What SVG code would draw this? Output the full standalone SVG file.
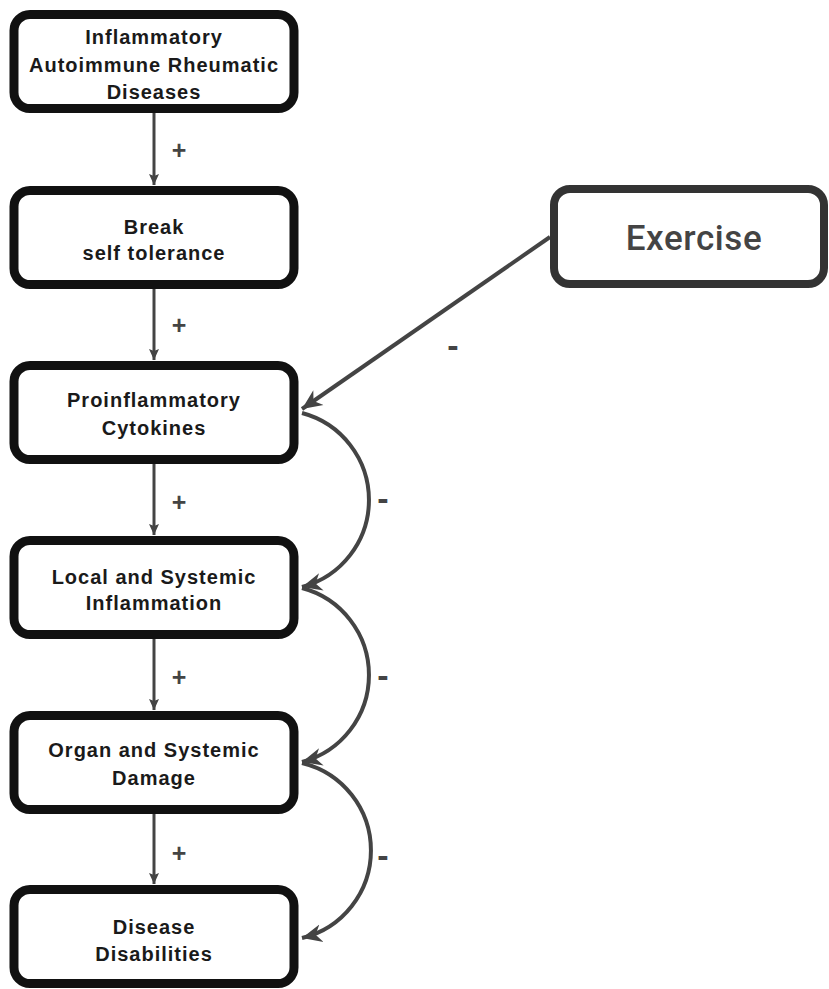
<svg xmlns="http://www.w3.org/2000/svg" width="829" height="989" viewBox="0 0 829 989">
<style>
.box{fill:#fff;stroke:#111;stroke-width:9}
.ex{fill:#fff;stroke:#333;stroke-width:8}
.t{font-family:"Liberation Sans",Arial,sans-serif;font-weight:bold;font-size:20px;letter-spacing:1px;fill:#1a1a1a;text-anchor:middle}
.ext{font-family:Roboto,"Liberation Sans",sans-serif;font-weight:500;font-size:35px;letter-spacing:0.6px;fill:#444;text-anchor:middle}
.v{stroke:#444;stroke-width:3;fill:none}
.c{stroke:#444;stroke-width:4;fill:none}
.lbl{font-family:"Liberation Sans",Arial,sans-serif;font-weight:bold;font-size:25px;fill:#444;text-anchor:middle}
.mn{font-family:"Liberation Sans",Arial,sans-serif;font-weight:bold;font-size:34px;fill:#444;text-anchor:middle}
</style>
<defs>
<marker id="sm" markerUnits="userSpaceOnUse" markerWidth="12" markerHeight="12" refX="11" refY="6" orient="auto">
<path d="M0,1 L11,6 L0,11 L2,6 z" fill="#444"/>
</marker>
<marker id="lg" markerUnits="userSpaceOnUse" markerWidth="22" markerHeight="20" refX="20" refY="10" orient="auto">
<path d="M0,1 L20,10 L0,19 L6,10 z" fill="#444"/>
</marker>
</defs>
<g id="connectors">
<line class="v" x1="154" y1="113" x2="154" y2="185" marker-end="url(#sm)"/>
<line class="v" x1="154" y1="289" x2="154" y2="360" marker-end="url(#sm)"/>
<line class="v" x1="154" y1="464" x2="154" y2="535" marker-end="url(#sm)"/>
<line class="v" x1="154" y1="639" x2="154" y2="710" marker-end="url(#sm)"/>
<line class="v" x1="154" y1="814" x2="154" y2="884" marker-end="url(#sm)"/>
<line class="c" x1="550" y1="237" x2="302" y2="409" marker-end="url(#lg)"/>
<path class="c" d="M302 413 A90 90 0 0 1 302 587" marker-end="url(#lg)"/>
<path class="c" d="M302 588 A90 90 0 0 1 302 762" marker-end="url(#lg)"/>
<path class="c" d="M302 763 A90 90 0 0 1 302 938" marker-end="url(#lg)"/>
<text class="lbl" x="179" y="159">+</text>
<text class="lbl" x="179" y="334">+</text>
<text class="lbl" x="179" y="511">+</text>
<text class="lbl" x="179" y="686">+</text>
<text class="lbl" x="179" y="862">+</text>
<text class="mn" x="453" y="357">-</text>
<text class="mn" x="383" y="510">-</text>
<text class="mn" x="383" y="687">-</text>
<text class="mn" x="383" y="867">-</text>
</g>
<g id="n1">
<rect class="box" x="14" y="14.5" width="280" height="94" rx="16"/>
<text class="t" x="154" y="44">Inflammatory</text>
<text class="t" x="154" y="72">Autoimmune Rheumatic</text>
<text class="t" x="154" y="99">Diseases</text>
</g>
<g id="n2">
<rect class="box" x="14" y="190.5" width="280" height="94" rx="16"/>
<text class="t" x="154" y="234">Break</text>
<text class="t" x="154" y="260">self tolerance</text>
</g>
<g id="n3">
<rect class="box" x="14" y="365.5" width="280" height="94" rx="16"/>
<text class="t" x="154" y="407">Proinflammatory</text>
<text class="t" x="154" y="435">Cytokines</text>
</g>
<g id="n4">
<rect class="box" x="14" y="540.5" width="280" height="94" rx="16"/>
<text class="t" x="154" y="584">Local and Systemic</text>
<text class="t" x="154" y="610">Inflammation</text>
</g>
<g id="n5">
<rect class="box" x="14" y="715.5" width="280" height="94" rx="16"/>
<text class="t" x="154" y="757">Organ and Systemic</text>
<text class="t" x="154" y="785">Damage</text>
</g>
<g id="n6">
<rect class="box" x="14" y="889.5" width="280" height="94" rx="16"/>
<text class="t" x="154" y="934">Disease</text>
<text class="t" x="154" y="961">Disabilities</text>
</g>
<g id="exercise">
<rect class="ex" x="554" y="189" width="270" height="95" rx="16"/>
<text class="ext" x="694" y="250">Exercise</text>
</g>
</svg>
